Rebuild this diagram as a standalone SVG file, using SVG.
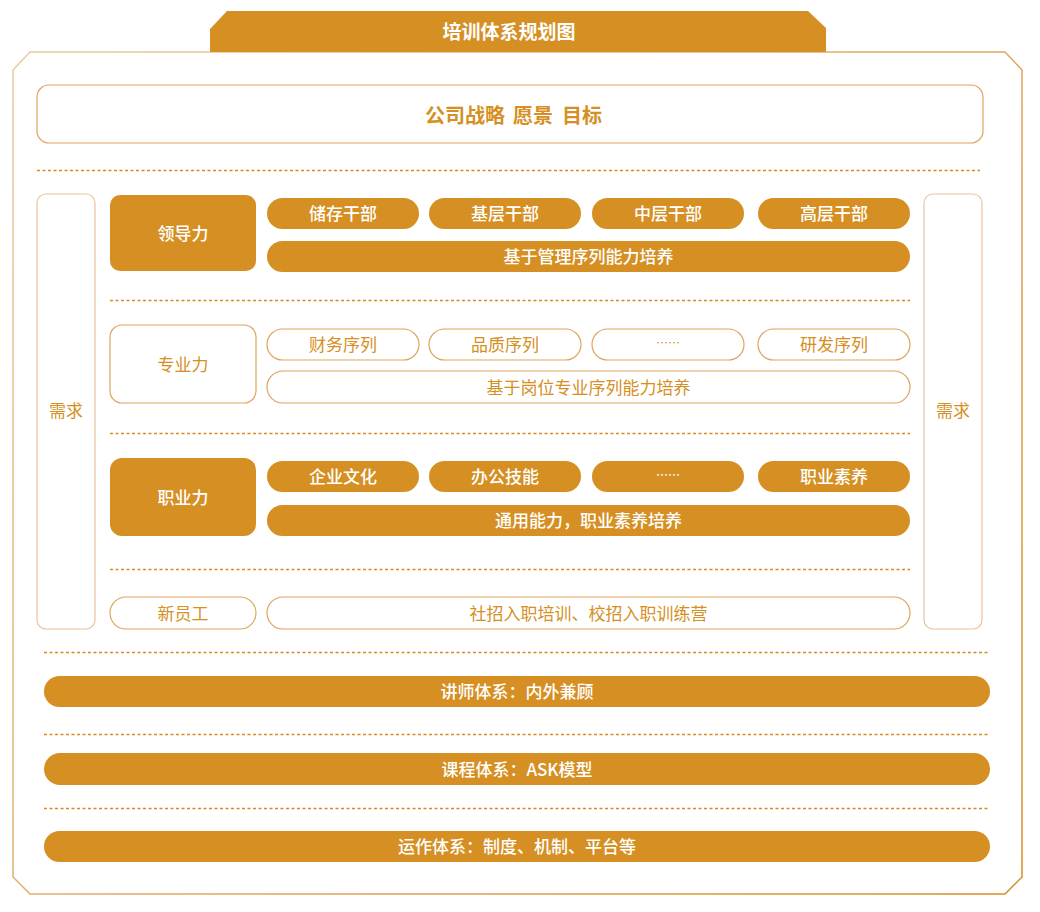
<svg xmlns="http://www.w3.org/2000/svg" width="1040" height="912" viewBox="0 0 1040 912">
<defs>
<linearGradient id="frameGrad" gradientUnits="userSpaceOnUse" x1="0" y1="0" x2="1040" y2="912">
<stop offset="0" stop-color="#ECCCA3"/>
<stop offset="0.6" stop-color="#DFA35A"/>
<stop offset="1" stop-color="#D68E1F"/>
</linearGradient>
<style>
text{font-family:"Noto Sans CJK SC","Noto Sans",sans-serif;dominant-baseline:central;text-anchor:middle}
.fill{fill:#D58F23}
.out{fill:#FFFFFF;stroke:#DFA35E;stroke-width:1.2}
.outl{fill:#FFFFFF;stroke:#E9C49A;stroke-width:1.2}
.wt{fill:#FFFFFF;font-size:17px;font-weight:500}
.ot{fill:#D58F23;font-size:17px;font-weight:400}
.dash{stroke:#D58C1E;stroke-width:1.3;stroke-dasharray:3 2.5;fill:none}
</style>
</defs>
<rect width="1040" height="912" fill="#FFFFFF"/>

<g id="frame">
<path d="M13,70 L30,52 L1005,52 L1022,70 L1022,877 L1005,894 L30,894 L13,877 Z" fill="#FFFFFF" stroke="url(#frameGrad)" stroke-width="1.5"/>
</g>

<g id="title">
<path d="M210,52 L210,29 L227,11 L808,11 L826,28 L826,52 Z" class="fill"/>
<text x="509" y="30" fill="#FFFFFF" font-size="19" font-weight="bold">培训体系规划图</text>
</g>

<g id="strategy">
<rect x="37" y="85" width="946" height="58" rx="12" class="out"/>
<text y="114" fill="#D58F23" font-size="20" font-weight="bold" style="text-anchor:start"><tspan x="425">公司战略</tspan><tspan x="513">愿景</tspan><tspan x="562">目标</tspan></text>
</g>

<g id="connectors">
<line x1="37" y1="170.5" x2="980" y2="170.5" class="dash"/>
<line x1="110" y1="300.5" x2="910" y2="300.5" class="dash"/>
<line x1="110" y1="433.5" x2="910" y2="433.5" class="dash"/>
<line x1="110" y1="569.5" x2="910" y2="569.5" class="dash"/>
<line x1="44" y1="652.5" x2="989" y2="652.5" class="dash"/>
<line x1="44" y1="734.5" x2="989" y2="734.5" class="dash"/>
<line x1="44" y1="808.5" x2="989" y2="808.5" class="dash"/>
</g>

<g id="demand-left">
<rect x="37" y="194" width="58" height="435" rx="9" class="outl"/>
<text x="66" y="409" class="ot">需求</text>
</g>
<g id="demand-right">
<rect x="924" y="194" width="58" height="435" rx="9" class="outl"/>
<text x="953" y="409" class="ot">需求</text>
</g>

<g id="leadership">
<rect x="110" y="195" width="146" height="76" rx="10" class="fill"/>
<text x="183" y="232" class="wt">领导力</text>
<rect x="267" y="198" width="152" height="31" rx="15.5" class="fill"/>
<text x="343" y="212.5" class="wt">储存干部</text>
<rect x="429" y="198" width="152" height="31" rx="15.5" class="fill"/>
<text x="505" y="212.5" class="wt">基层干部</text>
<rect x="592" y="198" width="152" height="31" rx="15.5" class="fill"/>
<text x="668" y="212.5" class="wt">中层干部</text>
<rect x="758" y="198" width="152" height="31" rx="15.5" class="fill"/>
<text x="834" y="212.5" class="wt">高层干部</text>
<rect x="267" y="241" width="643" height="31" rx="15.5" class="fill"/>
<text x="588.5" y="255.5" class="wt">基于管理序列能力培养</text>
</g>

<g id="professional">
<rect x="110" y="325" width="146" height="78" rx="12" class="out"/>
<text x="183" y="363" class="ot">专业力</text>
<rect x="267" y="329" width="152" height="31" rx="15.5" class="out"/>
<text x="343" y="343.5" class="ot">财务序列</text>
<rect x="429" y="329" width="152" height="31" rx="15.5" class="out"/>
<text x="505" y="343.5" class="ot">品质序列</text>
<rect x="592" y="329" width="152" height="31" rx="15.5" class="out"/>
<text x="668" y="342" class="ot" style="font-size:12px">……</text>
<rect x="758" y="329" width="152" height="31" rx="15.5" class="out"/>
<text x="834" y="343.5" class="ot">研发序列</text>
<rect x="267" y="371" width="643" height="32" rx="16" class="out"/>
<text x="588.5" y="386" class="ot">基于岗位专业序列能力培养</text>
</g>

<g id="vocational">
<rect x="110" y="458" width="146" height="78" rx="12" class="fill"/>
<text x="183" y="496" class="wt">职业力</text>
<rect x="267" y="461" width="152" height="31" rx="15.5" class="fill"/>
<text x="343" y="475.5" class="wt">企业文化</text>
<rect x="429" y="461" width="152" height="31" rx="15.5" class="fill"/>
<text x="505" y="475.5" class="wt">办公技能</text>
<rect x="592" y="461" width="152" height="31" rx="15.5" class="fill"/>
<text x="668" y="474" class="wt" style="font-size:12px">……</text>
<rect x="758" y="461" width="152" height="31" rx="15.5" class="fill"/>
<text x="834" y="475.5" class="wt">职业素养</text>
<rect x="267" y="505" width="643" height="31" rx="15.5" class="fill"/>
<text x="588.5" y="519.5" class="wt">通用能力，职业素养培养</text>
</g>

<g id="newstaff">
<rect x="110" y="597" width="146" height="32" rx="16" class="out"/>
<text x="183" y="612" class="ot">新员工</text>
<rect x="267" y="597" width="643" height="32" rx="16" class="out"/>
<text x="588.5" y="612" class="ot">社招入职培训、校招入职训练营</text>
</g>

<g id="lecturer">
<rect x="44" y="676" width="946" height="31" rx="15.5" class="fill"/>
<text x="517" y="690.5" class="wt">讲师体系：内外兼顾</text>
</g>
<g id="course">
<rect x="44" y="753" width="946" height="32" rx="16" class="fill"/>
<text x="517" y="768" class="wt">课程体系：ASK模型</text>
</g>
<g id="operation">
<rect x="44" y="831" width="946" height="31" rx="15.5" class="fill"/>
<text x="517" y="845.5" class="wt">运作体系：制度、机制、平台等</text>
</g>
</svg>
